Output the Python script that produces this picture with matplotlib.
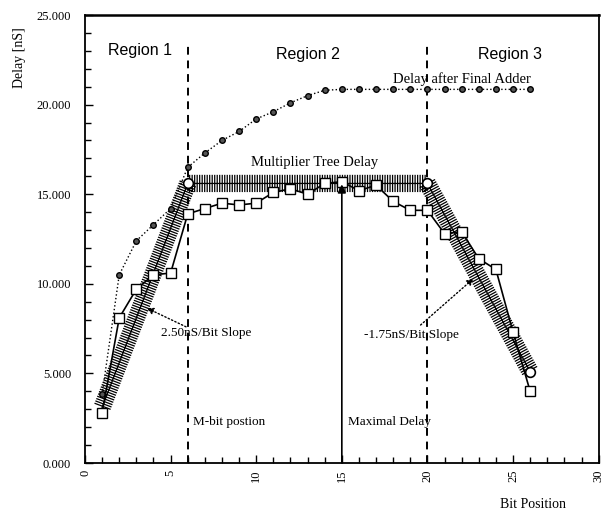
import matplotlib
matplotlib.use("Agg")
import matplotlib.pyplot as plt
from matplotlib import patheffects as pe
from matplotlib.ticker import MultipleLocator, FormatStrFormatter

# measured delay of each bit (squares)
bits = list(range(1, 27))
measured = [2.8, 8.1, 9.7, 10.5, 10.6, 13.9, 14.2, 14.5, 14.4, 14.5, 15.1, 15.3, 15.0,
            15.6, 15.7, 15.2, 15.5, 14.6, 14.1, 14.1, 12.8, 12.9, 11.4, 10.8, 7.3, 4.0]
# delay after final adder (dotted)
final_adder = [3.85, 10.5, 12.4, 13.3, 14.2, 16.5, 17.3, 18.0, 18.5, 19.2, 19.6, 20.1, 20.5,
               20.8, 20.85, 20.85, 20.85, 20.85, 20.85, 20.85, 20.85, 20.85, 20.85, 20.85,
               20.85, 20.85]
# multiplier tree delay model (hatched band)
tree_x = [1, 6, 20, 26]
tree_y = [3.1, 15.6, 15.6, 5.1]
region_x = [6, 20]

serif = "Liberation Serif"
sans = "Liberation Sans"

fig = plt.figure(figsize=(6.05, 5.12), dpi=100)
ax = fig.add_axes([0.1405, 0.0957, 0.849, 0.875])

# hatched band
tick = dict(spacing=1.8, length=3.2)
ax.plot(tree_x, tree_y, color="black", lw=0.9, zorder=2,
        path_effects=[pe.TickedStroke(angle=90, **tick),
                      pe.TickedStroke(angle=-90, **tick), pe.Normal()])
ax.plot(tree_x[1:], tree_y[1:], ls="none", marker="o", ms=7, mfc="white",
        mec="black", mew=1.2, zorder=5)

ax.plot(bits, final_adder, color="black", ls=":", lw=1, marker="o", ms=4,
        mfc="#555555", mec="black", mew=1, zorder=3)
ax.plot(bits, measured, color="black", lw=1.2, marker="s", ms=7.5,
        mfc="white", mec="black", mew=1, zorder=4)

for rx in region_x:
    ax.plot([rx, rx], [0, 23.5], color="black", lw=1.4, ls=(0, (4, 3)), zorder=1)

ax.annotate("", xy=(15, 15.55), xytext=(15, 0),
            arrowprops=dict(arrowstyle="-|>", color="black", lw=1.2,
                            mutation_scale=12, shrinkA=0, shrinkB=0), zorder=6)
ax.annotate("", xy=(3.6, 8.65), xytext=(5.9, 7.6),
            arrowprops=dict(arrowstyle="-|>", color="black", lw=1, ls=":",
                            mutation_scale=10, shrinkA=0, shrinkB=0), zorder=6)
ax.annotate("", xy=(22.7, 10.3), xytext=(19.6, 7.7),
            arrowprops=dict(arrowstyle="-|>", color="black", lw=1, ls=":",
                            mutation_scale=10, shrinkA=0, shrinkB=0), zorder=6)

ax.text(3.2, 23.0, "Region 1", family=sans, fontsize=11.5, ha="center", va="center")
ax.text(13.0, 22.8, "Region 2", family=sans, fontsize=11.5, ha="center", va="center")
ax.text(24.8, 22.8, "Region 3", family=sans, fontsize=11.5, ha="center", va="center")
ax.text(22.0, 21.45, "Delay after Final Adder", family=serif, fontsize=10.5,
        ha="center", va="center")
ax.text(13.4, 16.75, "Multiplier Tree Delay", family=serif, fontsize=10.5,
        ha="center", va="center")
ax.text(4.45, 7.25, "2.50nS/Bit Slope", family=serif, fontsize=9.5, va="center")
ax.text(16.3, 7.15, "-1.75nS/Bit Slope", family=serif, fontsize=9.5, va="center")
ax.text(6.3, 2.3, "M-bit postion", family=serif, fontsize=9.5, va="center")
ax.text(15.35, 2.3, "Maximal Delay", family=serif, fontsize=9.5, va="center")

ax.set_xlim(0, 30)
ax.set_ylim(0, 25)
ax.xaxis.set_major_locator(MultipleLocator(5))
ax.xaxis.set_minor_locator(MultipleLocator(1))
ax.yaxis.set_major_locator(MultipleLocator(5))
ax.yaxis.set_minor_locator(MultipleLocator(1))
ax.yaxis.set_major_formatter(FormatStrFormatter("%.3f"))
ax.tick_params(which="both", direction="in", width=1, top=False, right=False)
ax.tick_params(which="major", length=6, pad=10)
ax.tick_params(which="minor", length=4)
for lab in ax.get_xticklabels():
    lab.set_rotation(90)
for lab in ax.get_xticklabels() + ax.get_yticklabels():
    lab.set_family(serif)
    lab.set_fontsize(9)
ax.tick_params(axis="x", which="major", pad=5)
for s in ax.spines.values():
    s.set_linewidth(1.3)
ax.spines["top"].set_linewidth(1.8)

fig.text(0.881, 0.014, "Bit Position", family=serif, fontsize=10, ha="center", va="center")
fig.text(0.033, 0.888, "Delay [nS]", family=serif, fontsize=10, rotation=90,
         ha="center", va="center")

fig.savefig("out.png", dpi=100)
